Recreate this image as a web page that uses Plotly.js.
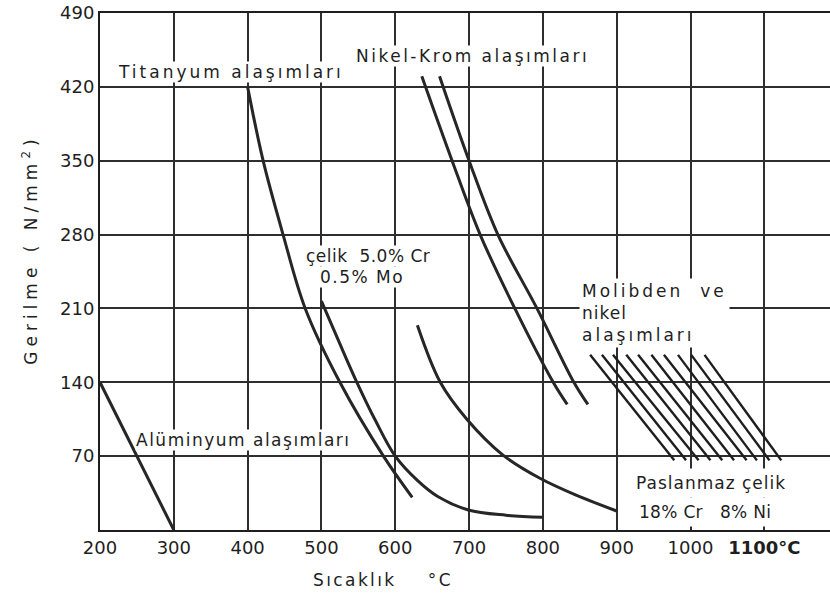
<!DOCTYPE html>
<html>
<head>
<meta charset="utf-8">
<script src="https://cdn.plot.ly/plotly-3.0.1.min.js"></script>
<style>html,body{margin:0;padding:0;background:#fff;}</style>
</head>
<body>
<div id="chart" style="width:830px;height:597px;"></div>
<script>
// ---- Data ----
const xTickVals = [200, 300, 400, 500, 600, 700, 800, 900, 1000, 1100];
const xTickText = ['200', '300', '400', '500', '600', '700', '800', '900', '1000', '<b>1100°C</b>'];
const yTickVals = [70, 140, 210, 280, 350, 420, 490];
const yTickText = ['70', '140', '210', '280', '350', '420', '490'];

const aluminyumX = [200, 300];
const aluminyumY = [140, 0];

const titanyumX = [400, 421, 448, 478, 525, 584, 623];
const titanyumY = [420, 350, 280, 210, 140, 70, 31];

const celikCrMoX = [500, 524, 548, 573, 600, 630, 657, 699, 750, 800];
const celikCrMoY = [217, 178, 140, 104, 70, 47, 32, 19, 14, 12];

const paslanmazX = [630, 661, 697, 746, 796, 845, 900];
const paslanmazY = [194, 140, 105, 71, 49, 33, 18];

const nikelKromAX = [636, 677, 715, 762, 814, 833];
const nikelKromAY = [430, 350, 280, 210, 140, 119];
const nikelKromBX = [660, 700, 739, 792, 842, 861];
const nikelKromBY = [430, 350, 280, 210, 140, 119];

const molibdenTopX = [864, 880, 895, 913, 929, 947, 964, 983, 1001, 1019];
const molibdenBottomX = [978, 994, 1011, 1027, 1043, 1059, 1076, 1090, 1107, 1123];
const molibdenTopY = 166;
const molibdenBottomY = 66;

// ---- Build traces ----
const ink = '#262626';
const font = 'DejaVu Sans';

function curve(x, y, shape) {
  return {x: x, y: y, type: 'scatter', mode: 'lines', hoverinfo: 'skip',
          line: {color: ink, width: 3, shape: shape || 'spline', smoothing: 1}};
}

const hatchX = [], hatchY = [];
for (let i = 0; i < molibdenTopX.length; i++) {
  hatchX.push(molibdenTopX[i], molibdenBottomX[i], null);
  hatchY.push(molibdenTopY, molibdenBottomY, null);
}

const traces = [
  curve(aluminyumX, aluminyumY, 'linear'),
  curve(titanyumX, titanyumY),
  curve(celikCrMoX, celikCrMoY),
  curve(paslanmazX, paslanmazY),
  curve(nikelKromAX, nikelKromAY),
  curve(nikelKromBX, nikelKromBY),
  {x: hatchX, y: hatchY, type: 'scatter', mode: 'lines', hoverinfo: 'skip',
   connectgaps: false, line: {color: '#1e1e1e', width: 2.4}}
];

function sp(text, ls) { return '<span style="letter-spacing:' + ls + 'px">' + text + '</span>'; }
function label(x, y, text, opts) {
  return Object.assign({x: x, y: y, xref: 'x', yref: 'y', text: text, showarrow: false,
    font: {family: font, size: 17, color: '#1e1e1e'}, bgcolor: 'white', borderpad: 1,
    xanchor: 'center', yanchor: 'middle'}, opts || {});
}

const annotations = [
  label(378, 434, sp('Titanyum alaşımları', 3), {borderpad: 0}),
  label(704, 449, sp('Nikel-Krom alaşımları', 2.5), {borderpad: 0}),
  label(563, 260, sp('çelik\u00a0\u00a05.0% Cr', 0.5), {borderpad: 0}),
  label(555, 240, sp('0.5% Mo', 1.5), {borderpad: 0}),
  label(849, 206, sp('Molibden\u00a0 ve', 3) + '<br>' + sp('nikel', 1) + '<br>' + sp('alaşımları', 3),
        {xanchor: 'left', align: 'left', borderpad: 2}),
  label(394, 85, sp('Alüminyum alaşımları', 1.5), {borderpad: 0}),
  label(1028, 45, sp('Paslanmaz çelik', 1), {borderpad: 4}),
  label(1020, 17, sp('18% Cr\u00a0\u00a0\u00a08% Ni', 0.3), {borderpad: 4}),
  {x: 0.388, y: -0.097, xref: 'paper', yref: 'paper', showarrow: false,
   text: sp('Sıcaklık\u00a0\u00a0\u00a0\u00a0°C', 2.4),
   font: {family: font, size: 17, color: '#1e1e1e'}, xanchor: 'center', yanchor: 'middle'},
  {x: -0.096, y: 0.542, xref: 'paper', yref: 'paper', showarrow: false, textangle: -90,
   text: sp('Gerilme ( N/mm<sup>2</sup>)', 5),
   font: {family: font, size: 17, color: '#1e1e1e'}, xanchor: 'center', yanchor: 'middle'}
];

const axisCommon = {
  showgrid: true, gridcolor: '#2e2e2e', gridwidth: 2,
  showline: true, linecolor: '#1e1e1e', linewidth: 2,
  zeroline: false, ticks: '', fixedrange: true,
  tickfont: {family: font, size: 18, color: '#1e1e1e'}
};

const layout = {
  width: 830, height: 597,
  margin: {l: 100, r: 0, t: 13, b: 67},
  paper_bgcolor: '#ffffff', plot_bgcolor: '#ffffff',
  showlegend: false,
  xaxis: Object.assign({}, axisCommon, {
    range: [200, 1189], tickmode: 'array', tickvals: xTickVals, ticktext: xTickText, mirror: true
  }),
  yaxis: Object.assign({}, axisCommon, {
    range: [0, 490], tickmode: 'array', tickvals: yTickVals, ticktext: yTickText, mirror: false
  }),
  annotations: annotations
};

Plotly.newPlot('chart', traces, layout, {displayModeBar: false, staticPlot: true});
</script>
</body>
</html>
